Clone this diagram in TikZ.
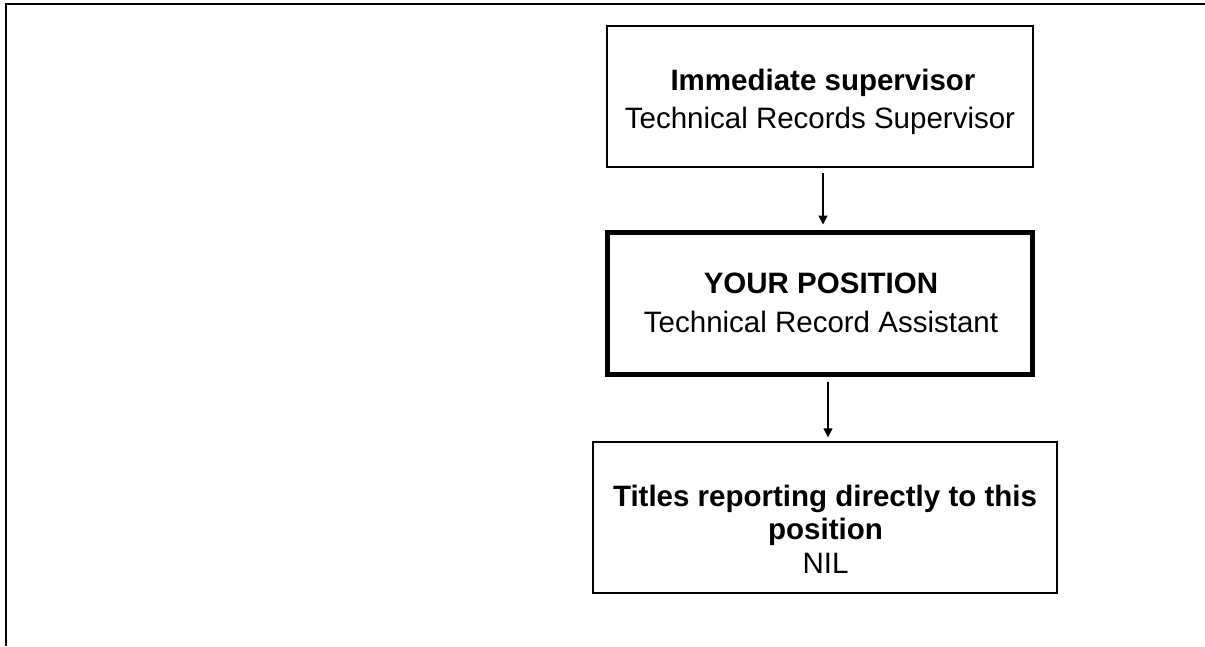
\documentclass[tikz,border=0pt]{standalone}
\usepackage{fontspec}
\setmainfont{Liberation Sans}
\usetikzlibrary{arrows.meta}
\begin{document}
\begin{tikzpicture}[x=1pt,y=-1pt,
  box/.style={draw=black, line width=1.4pt, rectangle, inner sep=0pt, fill=none},
  thickbox/.style={draw=black, line width=5pt, rectangle, inner sep=0pt},
  lbl/.style={anchor=base, inner sep=0pt, font=\fontsize{29.5}{34}\selectfont},
  lblb/.style={lbl, font=\fontsize{29.5}{34}\selectfont\bfseries},
  arr/.style={line width=1.5pt, -{Triangle[width=9pt,length=9pt]}}]
\useasboundingbox (0,0) rectangle (1205,646);
% outer frame (top and left only)
\coordinate (ftr) at (1205,4.3);
\coordinate (ftl) at (6,4.3);
\coordinate (fbl) at (6,646);
\draw[line width=2.2pt] (ftr) -- (ftl) -- (fbl);
% boxes
\node[box, minimum width=426pt, minimum height=141pt] (b1) at (820,96.5) {};
\node[thickbox, minimum width=425pt, minimum height=142pt] (b2) at (820,303.5) {};
\node[box, minimum width=464pt, minimum height=151pt] (b3) at (825,517.5) {};
% texts
\node[lblb] (t1a) at (823,90) {Immediate supervisor};
\node[lbl] (t1b) at (820,128) {Technical Records Supervisor};
\node[lblb] (t2a) at (821,293) {YOUR POSITION};
\node[lbl] (t2b) at (821,332.5) {Technical Record Assistant};
\node[lblb] (t3a) at (825,506) {Titles reporting directly to this};
\node[lblb] (t3b) at (825.5,539.5) {position};
\node[lbl] (t3c) at (825.5,573.5) {NIL};
% connectors
\coordinate (a1s) at ([xshift=3pt]b1.south);
\coordinate (a2s) at ([xshift=8pt]b2.south);
\draw[arr, shorten <=5pt, shorten >=5.5pt] (a1s) -- (a1s |- b2.north);
\draw[arr, shorten <=4.5pt, shorten >=4pt] (a2s) -- (a2s |- b3.north);
\end{tikzpicture}
\end{document}
